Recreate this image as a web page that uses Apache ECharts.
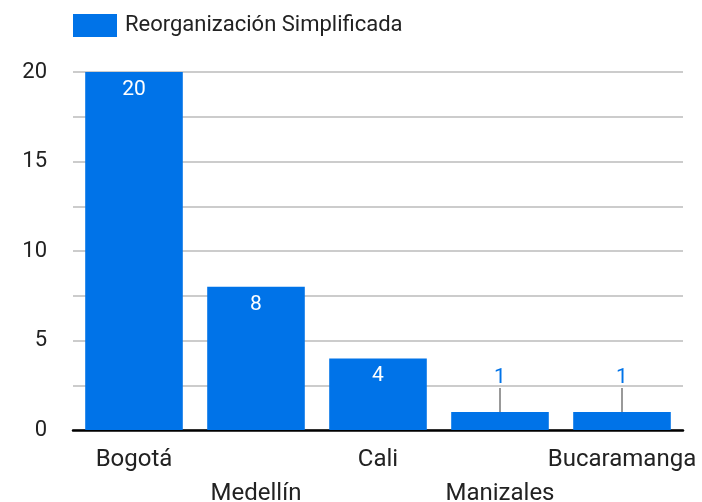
<!DOCTYPE html>
<html>
<head>
<meta charset="utf-8">
<script src="https://cdn.jsdelivr.net/npm/echarts@6/dist/echarts.min.js"></script>
<style>
  html, body { margin: 0; padding: 0; background: #fff; }
  #chart { width: 702px; height: 502px; }
</style>
</head>
<body>
<div id="chart"></div>
<script>
// data
const cities = ['Bogotá', 'Medellín', 'Cali', 'Manizales', 'Bucaramanga'];
const counts = [20, 8, 4, 1, 1];
const seriesName = 'Reorganización Simplificada';
const yTicks = [0, 5, 10, 15, 20];

const blue = '#0073e8';

var chartDom = document.getElementById('chart');
var myChart = echarts.init(chartDom);

// small bars get their label above with a leader line
let barData = counts.map((v) => {
    if (v >= 3) return v;
    return {
        value: v,
        label: { position: 'top', color: blue, distance: 4 },
        labelLine: { show: true, lineStyle: { color: '#999', width: 2 } }
    };
});

let option = {
    textStyle: { fontFamily: 'Roboto' },
    legend: {
        left: 73, top: 14, padding: 0,
        itemWidth: 44, itemHeight: 23, itemGap: 8,
        icon: 'rect',
        textStyle: { fontSize: 22, color: '#222', fontFamily: 'Roboto', padding: [0, 0, 0, 3] },
        data: [seriesName]
    },
    grid: { left: 73, right: 19, top: 72, bottom: 72, outerBoundsMode: 'none' },
    xAxis: {
        type: 'category',
        data: cities,
        axisLine: { lineStyle: { color: '#000', width: 2.5 } },
        axisTick: { show: false },
        axisLabel: {
            interval: 0,
            fontSize: 24,
            color: '#222',
            margin: 13,
            lineHeight: 34,
            formatter: (v, i) => (i % 2 ? '\n' + v : v)
        }
    },
    yAxis: {
        type: 'value',
        min: 0, max: 20, interval: 2.5,
        axisLine: { show: false },
        axisTick: { show: false },
        splitLine: { lineStyle: { color: '#cccccc', width: 2 } },
        axisLabel: {
            fontSize: 22,
            color: '#222',
            margin: 26,
            formatter: (v) => (yTicks.includes(v) ? String(v) : '')
        }
    },
    series: [{
        name: seriesName,
        type: 'bar',
        data: barData,
        barCategoryGap: '20%',
        itemStyle: { color: blue },
        label: {
            show: true,
            position: 'insideTop',
            distance: 7,
            color: '#fff',
            fontSize: 21
        },
        labelLayout: (p) => (counts[p.dataIndex] < 3 ? { dy: -20 } : {})
    }]
};
option && myChart.setOption(option);
</script>
</body>
</html>
